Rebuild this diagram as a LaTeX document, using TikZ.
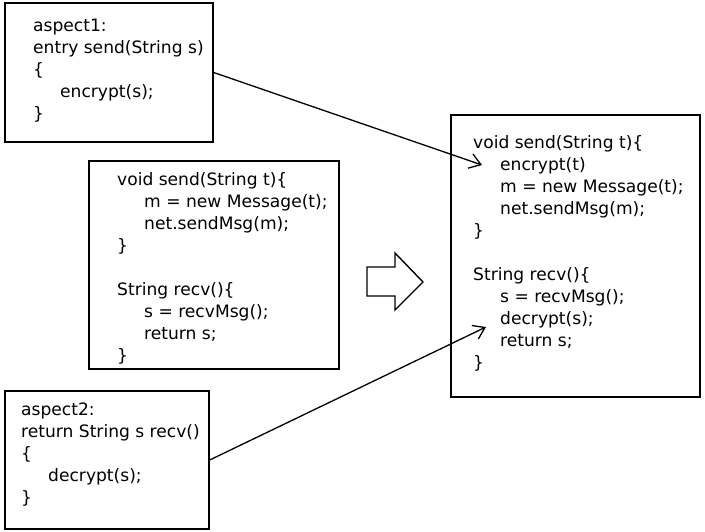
\documentclass[tikz,border=0pt]{standalone}
\usepackage{fontspec}
\setmainfont{DejaVu Sans}
\usetikzlibrary{arrows.meta}
\tikzset{
  box/.style={draw=black, line width=1.4pt, rectangle, inner sep=0pt},
  code/.style={anchor=base west, align=left, inner sep=0pt,
    font=\fontsize{17.1}{22}\selectfont},
  link/.style={line width=1.3pt, -{Straight Barb[length=11pt,width=15pt]}},
  bigarrow/.style={draw=black, line width=1.4pt, fill=white, line join=miter}
}
\newcommand{\ind}{\hspace*{27pt}}
\begin{document}
\begin{tikzpicture}[x=1pt,y=-1pt]
\useasboundingbox (0,0) rectangle (705,531);
% boxes
\node[box, minimum width=208pt, minimum height=139pt] (a1) at (109,72.5) {};
\node[box, minimum width=250pt, minimum height=208pt] (mid) at (214,265) {};
\node[box, minimum width=249pt, minimum height=282pt] (res) at (575.5,256) {};
\node[box, minimum width=204pt, minimum height=138pt] (a2) at (107,460) {};
% texts (anchored at the baseline of their last line)
\node[code] (t1) at (33,119.5) {aspect1:\\entry send(String s)\\\{\\\ind encrypt(s);\\\}};
\node[code] (tm) at (117,361.5) {void send(String t)\{\\\ind m = new Message(t);\\\ind net.sendMsg(m);\\\}\\[22pt]String recv()\{\\\ind s = recvMsg();\\\ind return s;\\\}};
\node[code] (tr) at (473,368.5) {void send(String t)\{\\\ind encrypt(t)\\\ind m = new Message(t);\\\ind net.sendMsg(m);\\\}\\[22pt]String recv()\{\\\ind s = recvMsg();\\\ind decrypt(s);\\\ind return s;\\\}};
\node[code] (t2) at (21,503.5) {aspect2:\\return String s recv()\\\{\\\ind decrypt(s);\\\}};
% transformation arrow
\draw[bigarrow] (367,267) -- (395,267) -- (395,253) -- (423,282) -- (395,310) -- (395,296) -- (367,296) -- cycle;
% connectors
\coordinate (e1) at (482,165);
\coordinate (e2) at (486,327);
\draw[link] (a1.east) -- (e1);
\draw[link] (a2.east) -- (e2);
\end{tikzpicture}
\end{document}
